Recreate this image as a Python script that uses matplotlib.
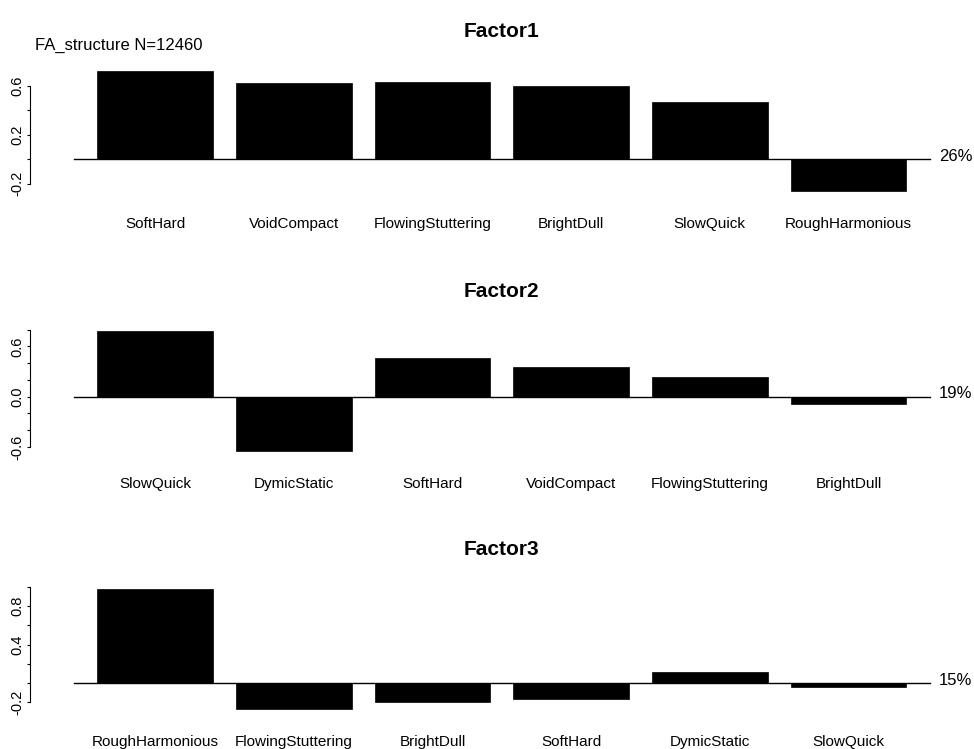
import numpy as np
import matplotlib
matplotlib.use("Agg")
import matplotlib.pyplot as plt

plt.rcParams['font.family'] = ['Liberation Sans', 'DejaVu Sans']

# factor loadings
f1_labels = ['SoftHard', 'VoidCompact', 'FlowingStuttering', 'BrightDull', 'SlowQuick', 'RoughHarmonious']
f1_vals = [0.72, 0.62, 0.63, 0.60, 0.47, -0.26]
f2_labels = ['SlowQuick', 'DymicStatic', 'SoftHard', 'VoidCompact', 'FlowingStuttering', 'BrightDull']
f2_vals = [0.78, -0.65, 0.46, 0.35, 0.24, -0.09]
f3_labels = ['RoughHarmonious', 'FlowingStuttering', 'BrightDull', 'SoftHard', 'DymicStatic', 'SlowQuick']
f3_vals = [0.98, -0.27, -0.20, -0.17, 0.11, -0.04]
titles = ['Factor1', 'Factor2', 'Factor3']
variance = ['26%', '19%', '15%']

# y axis ticks: all ticks, and the ones carrying a label
yticks = [np.arange(-0.2, 0.61, 0.2), np.arange(-0.6, 0.81, 0.2), np.arange(-0.2, 1.01, 0.2)]
ylabeled = [[0.6, 0.2, -0.2], [0.6, 0.0, -0.6], [0.8, 0.4, -0.2]]

panels = [(f1_labels, f1_vals), (f2_labels, f2_vals), (f3_labels, f3_vals)]
bottoms = [0.7383, 0.3912, 0.0471]

fig = plt.figure(figsize=(9.74, 7.49), dpi=100)

for k, (labels, vals) in enumerate(panels):
    ax = fig.add_axes([0.0667, bottoms[k], 0.897, 0.173])
    n = len(vals)
    # R barplot layout: width 1, space 0.2
    x = 0.2 + 0.5 + 1.2 * np.arange(n)
    ax.bar(x, vals, width=1.0, color='black', edgecolor='black', linewidth=0.5)
    lo, hi = 0.2, 0.2 + 1.2 * n - 0.2
    ext = 0.04 * (hi - lo)
    ax.set_xlim(lo - ext, hi + ext)
    ymin, ymax = min(0, min(vals)), max(0, max(vals))
    ext = 0.04 * (ymax - ymin)
    ax.set_ylim(ymin - ext, ymax + ext)
    ax.axhline(0, xmin=0.01, xmax=0.99, color='black', lw=1)

    for s in ['top', 'right', 'bottom']:
        ax.spines[s].set_visible(False)
    ax.spines['left'].set_position(('outward', 25))
    ax.spines['left'].set_bounds(yticks[k][0], yticks[k][-1])
    ax.set_yticks(yticks[k])
    ax.set_yticklabels(['%.1f' % t if any(abs(t - v) < 1e-6 for v in ylabeled[k]) else ''
                        for t in yticks[k]], rotation=90, va='center', fontsize=10.5)
    ax.tick_params(axis='y', length=2, pad=2)

    ax.set_xticks(x)
    ax.set_xticklabels(labels, fontsize=11)
    ax.tick_params(axis='x', length=0, pad=15)

    ax.set_title(titles[k], fontsize=15, fontweight='bold', pad=21)
    ax.annotate(variance[k], xy=(1.0, 0), xycoords=('axes fraction', 'data'),
                xytext=(0, 2), textcoords='offset points', va='center', ha='left', fontsize=12)

fig.text(0.036, 0.94, 'FA_structure N=12460', fontsize=12, ha='left', va='center')

fig.savefig('out.png', dpi=100)
